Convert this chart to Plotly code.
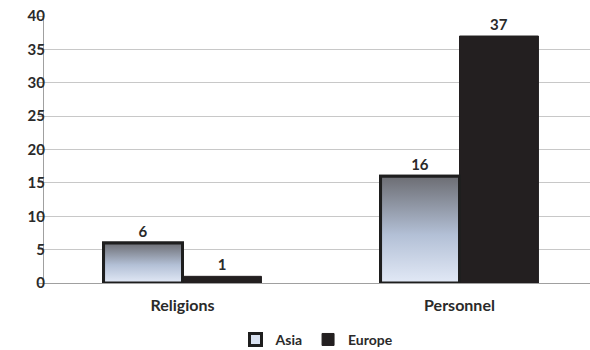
import plotly.graph_objects as go

categories = ["Religions", "Personnel"]
asia = [6, 16]
europe = [1, 37]
y_ticks = [0, 5, 10, 15, 20, 25, 30, 35, 40]

BARGAP = 0.43
bar_w = (1 - BARGAP) / 2
xpos = list(range(len(categories)))
font_family = "Lato, 'Open Sans', sans-serif"
txt_color = "#2a2a2a"

fig = go.Figure()

# Asia bars: solid base used for the legend swatch and value labels
fig.add_trace(go.Bar(
    name="Asia", x=xpos, y=asia,
    marker=dict(color="#d9e1f0", line=dict(color="#1e1e1e", width=3)),
    text=[str(v) for v in asia], textposition="outside",
    textfont=dict(family=font_family, size=15, color=txt_color),
    cliponaxis=False,
))
fig.add_trace(go.Bar(
    name="Europe", x=xpos, y=europe,
    marker=dict(color="#231f20", line=dict(color="#231f20", width=1)),
    text=[str(v) for v in europe], textposition="outside",
    textfont=dict(family=font_family, size=15, color=txt_color),
    cliponaxis=False,
))

# Vertical gradient overlay for each Asia bar (dark grey top -> pale blue bottom)
for i, v in zip(xpos, asia):
    x0, x1 = i - bar_w, i
    fig.add_trace(go.Scatter(
        x=[x0, x0, x1, x1, x0], y=[0, v, v, 0, 0],
        mode="lines", fill="toself",
        line=dict(color="#1e1e1e", width=3),
        fillgradient=dict(
            type="vertical", start=0, stop=v,
            colorscale=[[0, "#e2e9f6"], [0.45, "#b3c0d6"], [1, "#6c6d73"]],
        ),
        showlegend=False, hoverinfo="skip",
    ))

fig.update_layout(
    width=590, height=350,
    margin=dict(l=44, r=0, t=16, b=67, autoexpand=False),
    paper_bgcolor="white", plot_bgcolor="white",
    barmode="group", bargap=BARGAP, bargroupgap=0,
    font=dict(family=font_family, size=14, color=txt_color),
    showlegend=True,
    legend=dict(
        orientation="h", x=0.5, xanchor="center",
        y=-0.213, yanchor="middle",
        font=dict(family=font_family, size=14, color=txt_color, weight="bold"),
        itemwidth=30, traceorder="normal",
    ),
)
fig.update_xaxes(
    range=[-0.5, 1.5 - 8 / 277],
    tickvals=xpos, ticktext=categories,
    tickfont=dict(family=font_family, size=16, color=txt_color, weight="bold"),
    ticklabelstandoff=8,
    showline=True, linecolor="#a0a0a0", linewidth=1,
    showgrid=False, zeroline=False, ticks="",
)
fig.update_yaxes(
    range=[0, 40], tickvals=y_ticks,
    tickfont=dict(family=font_family, size=15, color=txt_color, weight="bold"),
    ticklabelstandoff=-10,
    showline=True, linecolor="#a0a0a0", linewidth=1,
    ticks="outside", ticklen=5, tickcolor="#a0a0a0",
    showgrid=True, gridcolor="#c8c8c8", gridwidth=1, zeroline=False,
)
fig.update_traces(textfont_weight="bold", selector=dict(type="bar"))

fig.write_html("out.html")
